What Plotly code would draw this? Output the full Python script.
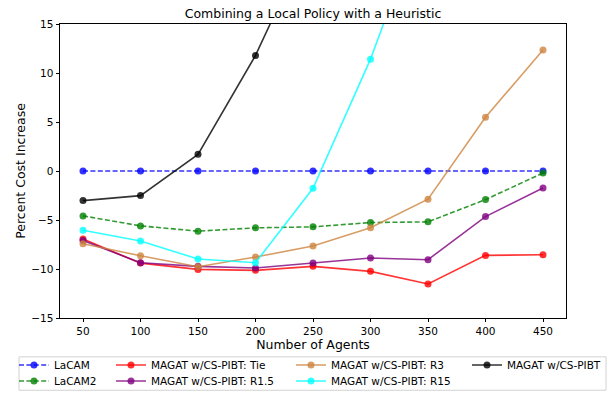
import plotly.graph_objects as go

agents = [50, 100, 150, 200, 250, 300, 350, 400, 450]

lacam = [0, 0, 0, 0, 0, 0, 0, 0, 0]
lacam2 = [-4.58, -5.6, -6.14, -5.8, -5.7, -5.26, -5.19, -2.92, -0.2]
tie = [-6.95, -9.4, -10.04, -10.14, -9.73, -10.24, -11.53, -8.61, -8.55]
r1_5 = [-7.09, -9.36, -9.73, -9.9, -9.39, -8.88, -9.05, -4.65, -1.73]
r3 = [-7.43, -8.65, -9.77, -8.78, -7.66, -5.8, -2.88, 5.49, 12.34]
r15_agents = [50, 100, 150, 200, 250, 300, 350]
r15 = [-6.04, -7.15, -8.98, -9.36, -1.76, 11.41, 27.3]
cspibt_agents = [50, 100, 150, 200, 250]
cspibt = [-3.02, -2.51, 1.7, 11.79, 24.4]

x_ticks = [50, 100, 150, 200, 250, 300, 350, 400, 450]
y_ticks = [-15, -10, -5, 0, 5, 10, 15]

series = [
    ("LaCAM", agents, lacam, "rgba(0,0,255,0.8)", "5px,2.4px"),
    ("LaCAM2", agents, lacam2, "rgba(0,128,0,0.8)", "5px,2.4px"),
    ("MAGAT w/CS-PIBT: Tie", agents, tie, "rgba(255,0,0,0.8)", "solid"),
    ("MAGAT w/CS-PIBT: R1.5", agents, r1_5, "rgba(128,0,128,0.8)", "solid"),
    ("MAGAT w/CS-PIBT: R3", agents, r3, "rgba(205,133,63,0.8)", "solid"),
    ("MAGAT w/CS-PIBT: R15", r15_agents, r15, "rgba(0,255,255,0.8)", "solid"),
    ("MAGAT w/CS-PIBT", cspibt_agents, cspibt, "rgba(0,0,0,0.8)", "solid"),
]

# legend placement (pixel positions of each entry: left x, row center y)
L, R, T, B = 60, 566, 23.5, 318.5
W, H = R - L, B - T
legend_pos = [(14, 365.7), (14, 381.7), (111, 365.7), (111, 381.7),
              (291, 365.7), (291, 381.7), (467, 365.7)]

fig = go.Figure()
layout_legends = {}
for i, (name, xs, ys, color, dash) in enumerate(series):
    lname = "legend" if i == 0 else f"legend{i+1}"
    fig.add_trace(go.Scatter(
        x=xs, y=ys, name=name, mode="lines+markers",
        line=dict(color=color, width=1.6, dash=dash),
        marker=dict(color=color, size=7, symbol="circle"),
        legend=lname, showlegend=True,
    ))
    px, py = legend_pos[i]
    layout_legends[lname] = dict(
        x=(px - L) / W, y=(B - py) / H, xanchor="left", yanchor="middle",
        xref="paper", yref="paper", orientation="v",
        bgcolor="rgba(0,0,0,0)", borderwidth=0,
        font=dict(family="DejaVu Sans", size=10.5, color="black"),
        itemwidth=30,
    )

fig.update_layout(**layout_legends)

fig.add_shape(type="rect", xref="paper", yref="paper",
              x0=(19 - L) / W, x1=(606 - L) / W,
              y0=(B - 357.5) / H, y1=(B - 391) / H,
              line=dict(color="rgb(210,210,210)", width=1),
              fillcolor="rgba(255,255,255,0.8)", layer="below")

fig.update_layout(
    width=613, height=393,
    margin=dict(l=L, r=613 - R, t=T, b=393 - B, pad=0, autoexpand=False),
    paper_bgcolor="white", plot_bgcolor="white",
    font=dict(family="DejaVu Sans", size=10.5, color="black"),
    title=dict(text="Combining a Local Policy with a Heuristic",
               x=0.5, xref="paper", xanchor="center",
               y=1, yref="paper", yanchor="bottom", pad=dict(b=6),
               font=dict(size=12.5, family="DejaVu Sans", color="black")),
    xaxis=dict(range=[30, 470], tickvals=x_ticks, ticks="outside", ticklen=3.5,
               tickwidth=0.8, tickcolor="black", showline=True, linecolor="black",
               linewidth=0.9, mirror=True, showgrid=False, zeroline=False,
               automargin=False,
               title=dict(text="Number of Agents", standoff=0,
                          font=dict(size=12.5, family="DejaVu Sans"))),
    yaxis=dict(range=[-15, 15], tickvals=y_ticks, ticks="outside", ticklen=3.5,
               tickwidth=0.8, tickcolor="black", showline=True, linecolor="black",
               linewidth=0.9, mirror=True, showgrid=False, zeroline=False,
               automargin=False,
               title=dict(text="Percent Cost Increase", standoff=2,
                          font=dict(size=12.5, family="DejaVu Sans"))),
)

fig.write_html("out.html", config={"displayModeBar": False},
               post_script="document.body.style.margin='0px';")
